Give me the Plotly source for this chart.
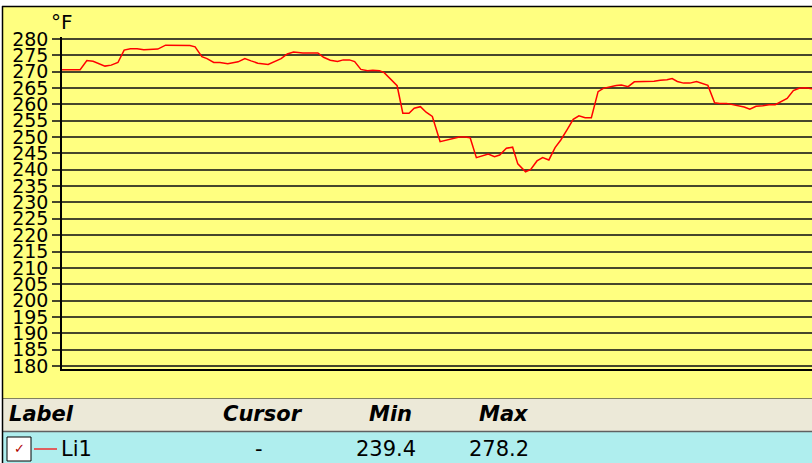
import plotly.graph_objects as go

# ---- data ----
elapsed = [0, 35, 48, 60, 83, 95, 108, 120, 132, 145, 158, 170, 185, 200, 225, 238, 247, 257,
           270, 280, 293, 305, 320, 340, 353, 365, 378, 398, 408, 423, 435, 447, 465, 494,
           505, 518, 532, 543, 555, 565, 577, 590, 600, 613, 622, 635, 647, 658, 670, 680,
           692, 703, 715, 730, 742, 755, 767, 778, 788, 800, 812, 823, 835, 845, 858, 870,
           880, 895, 905, 917, 928, 940, 952, 963, 975, 987, 998, 1010, 1022, 1035, 1045,
           1058, 1070, 1080, 1093, 1105, 1117, 1130, 1143, 1155, 1168, 1178, 1188, 1200,
           1212, 1225, 1235, 1247, 1260, 1270, 1283, 1295, 1307, 1317, 1328, 1340, 1353,
           1365, 1377, 1387, 1400, 1412, 1423, 1435, 1448]
temp_f = [270.6, 270.6, 273.4, 273.2, 271.7, 272.0, 272.8, 276.6, 277.0, 277.0, 276.7, 276.7,
          276.9, 278.1, 278.1, 278.2, 278.0, 277.6, 274.6, 274.0, 272.8, 272.8, 272.4, 273.0,
          274.0, 273.3, 272.6, 272.2, 273.0, 274.0, 275.4, 276.0, 275.7, 275.7, 274.4, 273.5,
          273.1, 273.6, 273.6, 273.1, 270.7, 270.3, 270.4, 270.3, 269.7, 267.7, 265.7, 257.3,
          257.3, 258.8, 259.3, 257.6, 256.3, 248.6, 249.1, 249.5, 250.0, 250.0, 249.8, 243.7,
          244.3, 244.8, 244.0, 244.5, 246.6, 246.9, 241.8, 239.4, 240.1, 242.7, 243.7, 243.0,
          246.8, 249.1, 252.2, 255.4, 256.5, 255.9, 255.9, 263.9, 264.9, 265.4, 265.8, 265.9,
          265.4, 266.9, 266.9, 266.9, 267.1, 267.4, 267.5, 267.9, 267.0, 266.5, 266.5, 267.0,
          266.5, 265.8, 260.5, 260.3, 260.3, 259.9, 259.5, 259.2, 258.5, 259.4, 259.6, 259.9,
          259.9, 260.7, 261.8, 264.2, 264.9, 265.1, 264.8]
series_name = "Li1"
unit_label = "°F"
y_ticks = list(range(180, 281, 5))
header_labels = ["Label", "Cursor", "Min", "Max"]
cursor_text = "-"
min_text = "239.4"
max_text = "278.2"

W, H = 812, 463
L, R, T, B = 62, 0, 37, 94
PW, PH = W - L - R, H - T - B


def px(x):
    return (x - L) / PW


def py(y):
    return (H - B - y) / PH


YELLOW = "#FFFF80"
BEIGE = "#ECE9D8"
CYAN = "#AFEEEE"
GRID = "#46462c"

fig = go.Figure()
fig.add_trace(go.Scatter(x=elapsed, y=temp_f, mode="lines", name=series_name,
                         line=dict(color="#FF0000", width=1.5), showlegend=False,
                         hoverinfo="skip"))

shapes = []
shapes.append(dict(type="rect", xref="paper", yref="paper", x0=px(0), x1=px(W), y0=py(0), y1=py(6),
                   fillcolor="white", line=dict(width=0), layer="below"))
shapes.append(dict(type="rect", xref="paper", yref="paper", x0=px(0), x1=px(2), y0=py(0), y1=py(H),
                   fillcolor="white", line=dict(width=0), layer="below"))
shapes.append(dict(type="rect", xref="paper", yref="paper", x0=px(2), x1=px(W), y0=py(398), y1=py(431),
                   fillcolor=BEIGE, line=dict(width=0), layer="below"))
shapes.append(dict(type="rect", xref="paper", yref="paper", x0=px(2), x1=px(W), y0=py(431), y1=py(H),
                   fillcolor=CYAN, line=dict(width=0), layer="below"))
shapes.append(dict(type="line", xref="paper", yref="paper", x0=px(2), x1=px(W), y0=py(398.5), y1=py(398.5),
                   line=dict(color="#808060", width=1)))
shapes.append(dict(type="line", xref="paper", yref="paper", x0=px(2), x1=px(W), y0=py(431.5), y1=py(431.5),
                   line=dict(color="#606060", width=1.5)))
shapes.append(dict(type="line", xref="paper", yref="paper", x0=px(2), x1=px(W), y0=py(6.5), y1=py(6.5),
                   line=dict(color="black", width=1.5)))
shapes.append(dict(type="line", xref="paper", yref="paper", x0=px(2.5), x1=px(2.5), y0=py(6), y1=py(H),
                   line=dict(color="black", width=1.5)))
shapes.append(dict(type="rect", xref="paper", yref="paper", x0=px(7), x1=px(31), y0=py(437), y1=py(461),
                   fillcolor="white", line=dict(color="black", width=1)))
shapes.append(dict(type="line", xref="paper", yref="paper", x0=px(34), x1=px(57), y0=py(449), y1=py(449),
                   line=dict(color="#FF0000", width=1.2)))

ann = []
ann.append(dict(text=unit_label, xref="paper", yref="paper", x=px(49), y=py(22), xanchor="left",
                yanchor="middle", showarrow=False, font=dict(family="DejaVu Sans", size=20, color="black")))
hdr_x = [7, 221, 367, 477]
for lab, hx in zip(header_labels, hdr_x):
    ann.append(dict(text="<b><i>" + lab + "</i></b>", xref="paper", yref="paper", x=px(hx), y=py(414),
                    xanchor="left", yanchor="middle", showarrow=False,
                    font=dict(family="DejaVu Sans", size=21, color="black")))
ann.append(dict(text="✓", xref="paper", yref="paper", x=px(19), y=py(449), xanchor="center",
                yanchor="middle", showarrow=False, font=dict(family="DejaVu Sans", size=13, color="#B00000")))
ann.append(dict(text=series_name, xref="paper", yref="paper", x=px(59), y=py(449), xanchor="left",
                yanchor="middle", showarrow=False, font=dict(family="DejaVu Sans", size=21, color="black")))
ann.append(dict(text=cursor_text, xref="paper", yref="paper", x=px(259), y=py(449), xanchor="center",
                yanchor="middle", showarrow=False, font=dict(family="DejaVu Sans", size=21, color="black")))
ann.append(dict(text=min_text, xref="paper", yref="paper", x=px(354), y=py(449), xanchor="left",
                yanchor="middle", showarrow=False, font=dict(family="DejaVu Sans", size=21, color="black")))
ann.append(dict(text=max_text, xref="paper", yref="paper", x=px(467), y=py(449), xanchor="left",
                yanchor="middle", showarrow=False, font=dict(family="DejaVu Sans", size=21, color="black")))

fig.update_layout(
    width=W, height=H,
    margin=dict(l=L, r=R, t=T, b=B, pad=0),
    paper_bgcolor=YELLOW, plot_bgcolor=YELLOW,
    shapes=shapes, annotations=ann,
    xaxis=dict(range=[elapsed[0], elapsed[-1]], showgrid=False, zeroline=False, showticklabels=False,
               ticks="", showline=True, linecolor="black", linewidth=1.5, fixedrange=True),
    yaxis=dict(range=[179.08, 280.6], tickvals=y_ticks, ticktext=[str(v) for v in y_ticks],
               showgrid=True, gridcolor=GRID, gridwidth=1.6, zeroline=False,
               ticks="outside", ticklen=8, tickcolor=GRID, tickwidth=1.6,
               showline=True, linecolor="black", linewidth=1.5,
               tickfont=dict(family="DejaVu Sans", size=19, color="black")),
    showlegend=False,
)

fig.write_html(
    "out.html",
    config={"displayModeBar": False},
    post_script="document.body.style.margin='0';document.body.style.overflow='hidden';",
)
